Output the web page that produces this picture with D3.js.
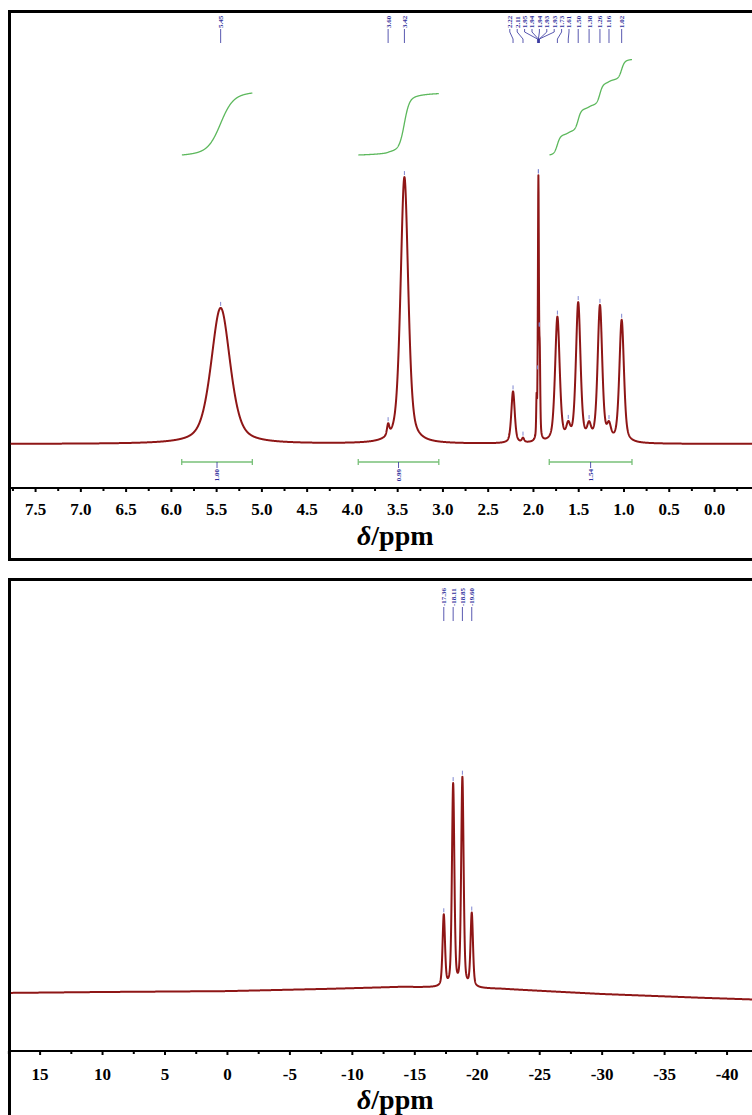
<!DOCTYPE html>
<html>
<head>
<meta charset="utf-8">
<script src="https://cdn.jsdelivr.net/npm/d3@7"></script>
<style>
  body { margin: 0; background: #fff; }
  svg { display: block; }
</style>
</head>
<body>
<svg id="chart" width="752" height="1115"></svg>
<script>
// ---------- 1H spectrum: peak table (shift / amplitude / line width) ----------
const hPeakShift = [5.45, 3.60, 3.42, 2.22, 2.11, 1.96, 1.94, 1.925, 1.73, 1.61, 1.50, 1.38, 1.26, 1.16, 1.02];
const hPeakAmp   = [50, 4, 98, 19, 1.5, 13, 95, 28, 46, 5, 51, 5, 50, 5, 45];
const hPeakFwhm  = [0.25, 0.03, 0.10, 0.045, 0.03, 0.01, 0.013, 0.013, 0.06, 0.05, 0.06, 0.05, 0.06, 0.05, 0.06];
const hLorentzFrac = 0.5;

// 1H peak-pick labels
const hPeakLabels = ["5.45", "3.60", "3.42", "2.22", "2.11", "1.95", "1.94", "1.94", "1.93", "1.93",
                     "1.73", "1.61", "1.50", "1.38", "1.26", "1.16", "1.02"];

// 1H integration regions
const hIntFrom  = [5.88, 3.93, 1.82];
const hIntTo    = [5.10, 3.04, 0.906];
const hIntValue = [1.00, 0.99, 1.54];

// 1H axis ticks
const hTicksMajor = [7.5, 7.0, 6.5, 6.0, 5.5, 5.0, 4.5, 4.0, 3.5, 3.0, 2.5, 2.0, 1.5, 1.0, 0.5, 0.0];
const hTicksMinor = [7.75, 7.25, 6.75, 6.25, 5.75, 5.25, 4.75, 4.25, 3.75, 3.25, 2.75, 2.25, 1.75, 1.25, 0.75, 0.25, -0.25];

// ---------- 19F spectrum: quartet + baseline drift ----------
const fPeakShift = [-17.36, -18.11, -18.85, -19.60];
const fPeakAmp   = [32, 91, 94, 33];
const fPeakFwhm  = [0.23, 0.23, 0.23, 0.23];
const fLorentzFrac = 0.4;
const fPeakLabels = ["-17.36", "-18.11", "-18.85", "-19.60"];

const fBaseShift = [17.3, 10, 0, -8, -14, -22, -30, -38, -46];
const fBaseLevel = [3.2, 3.6, 4.0, 5.0, 5.9, 5.0, 2.7, 1.0, -0.5];

const fTicksMajor = [15, 10, 5, 0, -5, -10, -15, -20, -25, -30, -35, -40];
const fTicksMinor = [17.5, 12.5, 7.5, 2.5, -2.5, -7.5, -12.5, -17.5, -22.5, -27.5, -32.5, -37.5, -42.5];

// ---------- styling ----------
const SPEC_COLOR = "#8e1616";
const LABEL_BLUE = "#2f2f9c";
const INT_GREEN  = "#5cb85c";
const BAR_GREEN  = "#78c078";
const SERIF = "'Liberation Serif', 'Times New Roman', serif";

const svg = d3.select("#chart");

// pseudo-Voigt line shape
function lineShape(p, c, a, w, eta) {
  const u = (p - c) / w;
  const L = 1 / (1 + 4 * u * u);
  const G = Math.exp(-4 * Math.LN2 * u * u);
  return a * (eta * L + (1 - eta) * G);
}

function sampleSpectrum(from, to, step, shifts, amps, widths, eta, base) {
  const pts = [];
  for (let p = from; p >= to; p -= step) {
    let v = base ? base(p) : 0;
    for (let i = 0; i < shifts.length; i++) v += lineShape(p, shifts[i], amps[i], widths[i], eta);
    pts.push([p, v]);
  }
  return pts;
}

// spread overlapping labels into non-overlapping clusters
function layoutLabels(targets, gap) {
  const order = targets.map((t, i) => i).sort((a, b) => targets[a] - targets[b]);
  let clusters = order.map(i => ({ members: [i], sum: targets[i] }));
  const span = c => {
    const n = c.members.length, mid = c.sum / n;
    return [mid - (n - 1) / 2 * gap, mid + (n - 1) / 2 * gap];
  };
  let merged = true;
  while (merged) {
    merged = false;
    for (let k = 1; k < clusters.length; k++) {
      const a = clusters[k - 1], b = clusters[k];
      if (span(a)[1] + gap > span(b)[0]) {
        clusters.splice(k - 1, 2, { members: a.members.concat(b.members), sum: a.sum + b.sum });
        merged = true;
        break;
      }
    }
  }
  const out = new Array(targets.length);
  clusters.forEach(c => {
    const [lo] = span(c);
    c.members.forEach((m, j) => { out[m] = lo + j * gap; });
  });
  return out;
}

function drawFrame(y0, h) {
  svg.append("rect")
    .attr("x", 9.5).attr("y", y0).attr("width", 800).attr("height", h)
    .attr("fill", "none").attr("stroke", "#000").attr("stroke-width", 3);
}

function drawAxis(x, axisY, major, minor, fmt, labelOffset, titleBaseline) {
  svg.append("line")
    .attr("x1", 11).attr("x2", 800).attr("y1", axisY).attr("y2", axisY)
    .attr("stroke", "#000").attr("stroke-width", 2);

  const gMinor = svg.append("g").attr("transform", `translate(0,${axisY})`)
    .call(d3.axisBottom(x).tickValues(minor).tickSize(3).tickFormat(""));
  gMinor.select(".domain").remove();
  gMinor.selectAll(".tick line").attr("stroke", "#000").attr("stroke-width", 2);

  const gMajor = svg.append("g").attr("transform", `translate(0,${axisY})`)
    .call(d3.axisBottom(x).tickValues(major).tickSize(4).tickFormat(fmt));
  gMajor.select(".domain").remove();
  gMajor.selectAll(".tick line").attr("stroke", "#000").attr("stroke-width", 2);
  gMajor.selectAll(".tick text")
    .attr("y", labelOffset).attr("dy", null)
    .attr("font-family", SERIF).attr("font-weight", "bold").attr("font-size", 17)
    .attr("fill", "#000");

  const t = svg.append("text")
    .attr("x", 357).attr("y", titleBaseline)
    .attr("font-family", SERIF).attr("font-weight", "bold").attr("font-size", 28)
    .attr("fill", "#000");
  t.append("tspan").attr("font-style", "italic").text("δ");
  t.append("tspan").text("/ppm");
}

function drawPeakLabels(x, yScale, spectrumAt, labels, textBottom, gap) {
  const shifts = labels.map(Number);
  const targets = shifts.map(s => x(s));
  const lx = layoutLabels(targets, gap);
  const g = svg.append("g");
  labels.forEach((lab, i) => {
    const px = targets[i];
    g.append("text")
      .attr("transform", `translate(${lx[i]},${textBottom}) rotate(-90)`)
      .attr("text-anchor", "start").attr("dy", "0.35em")
      .attr("font-family", SERIF).attr("font-weight", "bold").attr("font-size", 7).attr("fill", LABEL_BLUE)
      .text(lab);
    const y1 = textBottom + 1, y2 = textBottom + 4, y3 = textBottom + 11, y4 = textBottom + 15;
    g.append("path")
      .attr("d", d3.line()([[lx[i], y1], [lx[i], y2], [px, y3], [px, y4]]))
      .attr("fill", "none").attr("stroke", LABEL_BLUE).attr("stroke-width", 0.8);
    // apex marker
    const ay = yScale(spectrumAt(shifts[i]));
    g.append("line")
      .attr("x1", px).attr("x2", px).attr("y1", ay - 6).attr("y2", ay - 2)
      .attr("stroke", "#7f86d0").attr("stroke-width", 1);
  });
}

// ================= 1H panel =================
const xH = d3.scaleLinear().domain([7.766, -0.95]).range([11, 800]);
const yH = d3.scaleLinear().domain([0, 100]).range([444, 172]);
drawFrame(11.5, 548);

const hData = sampleSpectrum(7.77, -0.95, 0.002, hPeakShift, hPeakAmp, hPeakFwhm, hLorentzFrac, null);
const hAt = p => hPeakShift.reduce((s, c, i) => s + lineShape(p, c, hPeakAmp[i], hPeakFwhm[i], hLorentzFrac), 0);

// integral curves and bars
const INT_START_Y = 155, INT_PX_PER_UNIT = 62;
hIntFrom.forEach((from, k) => {
  const to = hIntTo[k];
  const seg = hData.filter(d => d[0] <= from && d[0] >= to);
  let cum = 0;
  const cumPts = seg.map(d => { cum += d[1]; return [d[0], cum]; });
  const total = cum;
  const intY = d3.scaleLinear().domain([0, total]).range([INT_START_Y, INT_START_Y - hIntValue[k] * INT_PX_PER_UNIT]);
  svg.append("path")
    .attr("d", d3.line().x(d => xH(d[0])).y(d => intY(d[1]))(cumPts))
    .attr("fill", "none").attr("stroke", INT_GREEN).attr("stroke-width", 1.3);

  const barY = 462;
  const x0 = xH(from), x1 = xH(to), xm = (x0 + x1) / 2;
  const bar = svg.append("g").attr("stroke", BAR_GREEN).attr("stroke-width", 1.3);
  bar.append("line").attr("x1", x0).attr("x2", x1).attr("y1", barY).attr("y2", barY);
  bar.append("line").attr("x1", x0).attr("x2", x0).attr("y1", barY - 3).attr("y2", barY + 3);
  bar.append("line").attr("x1", x1).attr("x2", x1).attr("y1", barY - 3).attr("y2", barY + 3);
  svg.append("line").attr("x1", xm).attr("x2", xm).attr("y1", barY).attr("y2", barY + 6)
    .attr("stroke", LABEL_BLUE).attr("stroke-width", 0.8);
  svg.append("text")
    .attr("transform", `translate(${xm},${barY + 7}) rotate(-90)`)
    .attr("text-anchor", "end").attr("dy", "0.35em")
    .attr("font-family", SERIF).attr("font-weight", "bold").attr("font-size", 7).attr("fill", LABEL_BLUE)
    .text(hIntValue[k].toFixed(2));
});

svg.append("path")
  .attr("d", d3.line().x(d => xH(d[0])).y(d => yH(d[1]))(hData))
  .attr("fill", "none").attr("stroke", SPEC_COLOR).attr("stroke-width", 2)
  .attr("stroke-linejoin", "round");

drawPeakLabels(xH, yH, hAt, hPeakLabels, 28, 7.4);
drawAxis(xH, 488, hTicksMajor, hTicksMinor, d3.format(".1f"), 27, 545);

// ================= 19F panel =================
const xF = d3.scaleLinear().domain([17.29, -45.88]).range([11, 800]);
const yF = d3.scaleLinear().domain([0, 100]).range([1000, 778]);
drawFrame(579.5, 600);

const fBase = d3.scaleLinear().domain(fBaseShift).range(fBaseLevel);
const fData = sampleSpectrum(17.3, -45.9, 0.01, fPeakShift, fPeakAmp, fPeakFwhm, fLorentzFrac, fBase);
const fAt = p => fBase(p) + fPeakShift.reduce((s, c, i) => s + lineShape(p, c, fPeakAmp[i], fPeakFwhm[i], fLorentzFrac), 0);

svg.append("path")
  .attr("d", d3.line().x(d => xF(d[0])).y(d => yF(d[1]))(fData))
  .attr("fill", "none").attr("stroke", SPEC_COLOR).attr("stroke-width", 2)
  .attr("stroke-linejoin", "round");

drawPeakLabels(xF, yF, fAt, fPeakLabels, 606, 7.6);
drawAxis(xF, 1051, fTicksMajor, fTicksMinor, d => String(d), 29, 1109);
</script>
</body>
</html>
